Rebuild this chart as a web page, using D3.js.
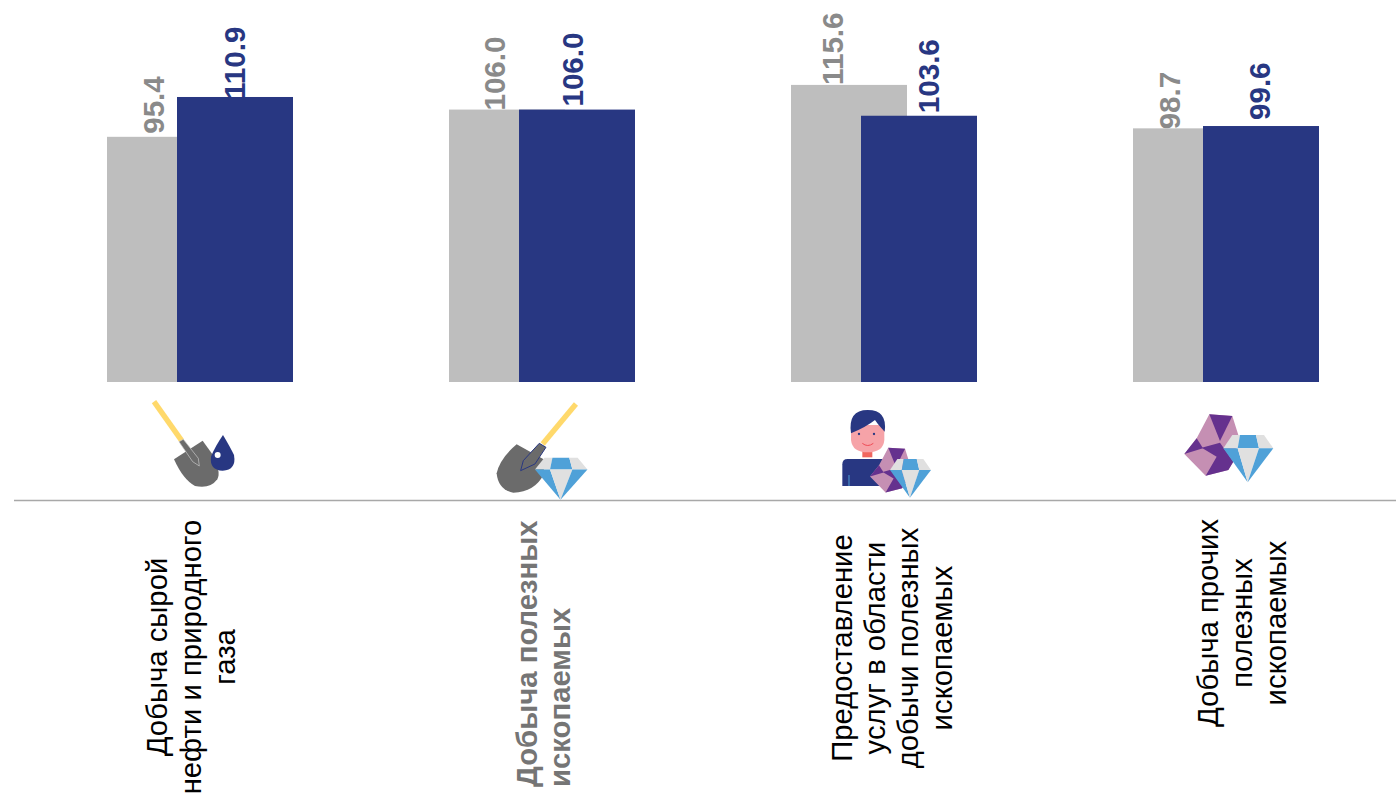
<!DOCTYPE html>
<html><head><meta charset="utf-8">
<script src="https://cdn.jsdelivr.net/npm/d3@7/dist/d3.min.js"></script>
<style>html,body{margin:0;padding:0;background:#fff;overflow:hidden}svg{display:block}text{font-family:"Liberation Sans",Arial,sans-serif}</style>
</head><body>
<svg id="c" width="1396" height="794"></svg>
<script>
const categories = ["Добыча сырой нефти и природного газа","Добыча полезных ископаемых","Предоставление услуг в области добычи полезных ископаемых","Добыча прочих полезных ископаемых"];
const categoryLines = [["Добыча сырой","нефти и природного","газа"],["Добыча полезных","ископаемых"],["Предоставление","услуг в области","добычи полезных","ископаемых"],["Добыча прочих","полезных","ископаемых"]];
const series = ["prev","curr"];
const prevValues = [95.4,106.0,115.6,98.7];
const currValues = [110.9,106.0,103.6,99.6];

const GRAY="#bebebe",NAVY="#283782",LBL="#8a8a8a",YEL="#ffd96b",SHOV="#6b6b6b",DBLUE="#4fa1d8",DGRAY="#e0e0e0",PURP="#65318e",PINK="#c58fb3";
const svg=d3.select("#c");
const x0=d3.scaleBand().domain(categories).range([29,1397]).paddingInner(1-186/342).paddingOuter((1-186/342)/2);
const x1=d3.scaleBand().domain(series).range([0,x0.bandwidth()]).paddingInner(1-116/70);
const y=d3.scaleLinear().domain([0,100]).range([382,125]);
const vals={prev:prevValues,curr:currValues};
const col={prev:GRAY,curr:NAVY}, lblCol={prev:LBL,curr:NAVY};
// label placement relative to each bar
const labelDx={prev:[-1,-2.5,-6,-11],curr:[10,6,20,9]};
const labelDy={prev:[3,-1,0,-1],curr:[-2,3,2.5,6]};

// value labels sit behind the bars, as in the original
series.forEach(s=>{
  svg.append("g").selectAll("text").data(vals[s]).join("text")
    .attr("transform",(v,i)=>{
      const c=categories[i];
      const bx=x0(c)+x1(s)+x1.bandwidth()/2+labelDx[s][i];
      return `translate(${bx},${y(v)-labelDy[s][i]}) rotate(-90)`;
    })
    .attr("font-size",29.6).attr("font-weight","bold").attr("fill",lblCol[s])
    .text(v=>v.toFixed(1));
});
series.forEach(s=>{
  svg.append("g").selectAll("rect").data(vals[s]).join("rect")
    .attr("x",(v,i)=>x0(categories[i])+x1(s))
    .attr("width",x1.bandwidth())
    .attr("y",v=>y(v)).attr("height",v=>y(0)-y(v))
    .attr("fill",col[s]);
});

// separator
svg.append("line").attr("x1",14).attr("x2",1396).attr("y1",500.5).attr("y2",500.5).attr("stroke","#a8a8a8").attr("stroke-width",1.5);

// rotated category text
const lineX=[[167,201,235],[537,570],[852,885,918,952],[1218,1252,1286]];
const lineY=[657,787,648,623];
categoryLines.forEach((ls,i)=>{
  const bold=i===1;
  const g=svg.append("g");
  g.selectAll("text").data(ls).join("text")
    .attr("transform",(t,j)=>`translate(${lineX[i][j]},${lineY[i]}) rotate(-90)`)
    .attr("text-anchor",bold?"start":"middle")
    .attr("font-size",29.3).attr("font-weight",bold?"bold":"normal")
    .attr("fill",bold?"#757575":"#000")
    .text(t=>t);
});

// icons
function diamond(g,tr){
  const d=g.append("g").attr("transform",tr);
  const P=(pts,f)=>d.append("polygon").attr("points",pts).attr("fill",f);
  P("27,0 50,0 43,40 0,40",DGRAY);P("50,0 98,0 107,40 43,40",DBLUE);P("98,0 122,0 150,40 107,40",DGRAY);
  P("0,40 43,40 73,142",DBLUE);P("43,40 107,40 73,142",DGRAY);P("107,40 150,40 73,142",DBLUE);
}
function gem(g,tr){
  const d=g.append("g").attr("transform",tr);
  const P=(pts,f)=>d.append("polygon").attr("points",pts).attr("fill",f);
  P("103,28 172,33 190,90 175,170 160,195 92,212 28,147 65,100",PINK);
  P("103,28 172,33 135,108",PURP);P("65,100 84,130 28,147",PURP);
  P("80,128 135,113 175,170 160,195 92,212 125,155",PURP);
}
// icon 1
let g=svg.append("g").attr("transform","translate(130,390) scale(0.3333)");
g.append("line").attr("x1",72).attr("y1",35).attr("x2",155).attr("y2",152).attr("stroke",YEL).attr("stroke-width",16);
g.append("path").attr("d","M132,208 L218,152 L245,190 Q275,245 262,268 Q240,298 195,288 Q160,270 132,208Z").attr("fill",SHOV);
g.append("path").attr("d","M147,155 L160,148 L205,205 L208,228 L188,215Z").attr("fill",SHOV).attr("stroke","#ccc").attr("stroke-width",2);
g.append("path").attr("d","M279,135 Q300,170 312,195 Q320,240 278,242 Q238,240 243,200 Q255,170 279,135Z").attr("fill",NAVY);
g.append("circle").attr("cx",263).attr("cy",195).attr("r",9).attr("fill","#fff");
// icon 2 (same crop coordinates)
g.append("line").attr("x1",1338).attr("y1",42).attr("x2",1238).attr("y2",162).attr("stroke",YEL).attr("stroke-width",16);
g.append("path").attr("d","M1160,163 L1245,210 L1240,255 Q1215,305 1150,308 Q1105,300 1100,250 Q1110,205 1160,163Z").attr("fill",SHOV);
g.append("path").attr("d","M1228,160 L1248,172 L1215,222 L1172,242 L1180,212Z").attr("fill",SHOV).attr("stroke",NAVY).attr("stroke-width",3);
diamond(g,"translate(1215,203) scale(1.05,0.89)");
// icon 3
g=svg.append("g").attr("transform","translate(835,405) scale(0.3333)");
g.append("path").attr("d","M22,243 V178 Q22,162 38,162 H170 V243Z").attr("fill",NAVY);
g.append("line").attr("x1",42).attr("y1",210).attr("x2",42).attr("y2",243).attr("stroke",DBLUE).attr("stroke-width",3);
g.append("rect").attr("x",82).attr("y",135).attr("width",30).attr("height",22).attr("fill","#f0665f");
g.append("path").attr("d","M48,60 H148 V105 Q145,142 98,142 Q52,142 48,105Z").attr("fill","#f6a3a8");
g.append("path").attr("d","M48,85 Q38,15 98,15 Q158,15 149,80 Q130,60 120,45 Q95,65 48,85Z").attr("fill",NAVY);
g.append("circle").attr("cx",72).attr("cy",87).attr("r",3.5).attr("fill",NAVY);
g.append("circle").attr("cx",117).attr("cy",87).attr("r",3.5).attr("fill",NAVY);
g.append("path").attr("d","M82,115 Q98,128 115,115").attr("fill","none").attr("stroke","#ee4b55").attr("stroke-width",3);
gem(g,"translate(84.6,107.5) scale(0.73)");
diamond(g,"translate(165,162) scale(0.82,0.82)");
// icon 4
g=svg.append("g").attr("transform","translate(1175,405) scale(0.3333)");
gem(g,"");
diamond(g,"translate(145,90)");
</script>
</body></html>
